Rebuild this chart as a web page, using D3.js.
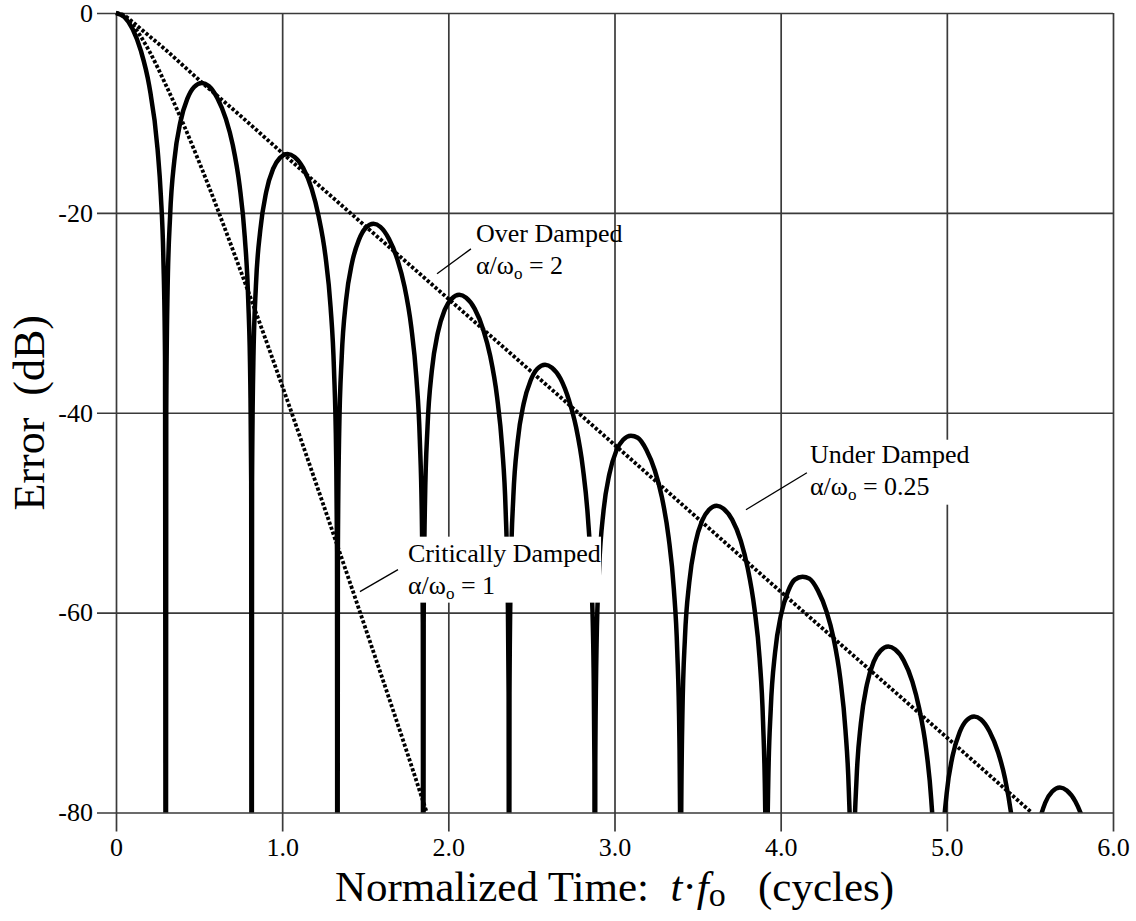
<!DOCTYPE html>
<html>
<head>
<meta charset="utf-8">
<script src="https://cdn.jsdelivr.net/npm/d3@7/dist/d3.min.js"></script>
<style>
  body { margin: 0; background: #fff; }
  svg text { font-family: "Liberation Serif", "Times New Roman", serif; fill: #000; }
</style>
</head>
<body>
<svg id="chart" width="1136" height="921"></svg>
<script>
// axis ticks
const xTicks = [0, 1, 2, 3, 4, 5, 6];
const yTicks = [0, -20, -40, -60, -80];

// series: [t*fo (cycles), error (dB)]
const overDamped = [
  [0, 0], [0.05, -0.25], [0.1, -0.9], [0.15, -1.6], [0.2, -2.3], [0.3, -3.7], [0.4, -5.2],
  [0.5, -6.7], [0.75, -10.3], [1, -14.0], [2, -28.6], [3, -43.2], [4, -57.9], [5, -72.5], [5.51, -80]
];
const criticallyDamped = [
  [0, 0], [0.05, -0.35], [0.1, -1.2], [0.2, -3.8], [0.3, -7.2], [0.4, -10.9], [0.5, -14.9],
  [0.75, -25.8], [1, -37.3], [1.25, -49.3], [1.5, -61.5], [1.75, -73.9], [1.87, -80]
];
// nulls drop below the -80 floor and get clipped
const underDamped = [
  [0, 0], [0.05, -0.4], [0.1, -1.6], [0.15, -3.8], [0.2, -7.3], [0.25, -13.6], [0.27, -18.3],
  [0.285, -24.5], [0.295, -34.4], [0.2998, -120],
  [0.3024, -39.9], [0.3101, -28.0], [0.3256, -20.3], [0.3514, -14.7], [0.3876, -10.9], [0.4289, -8.6],
  [0.4702, -7.4], [0.5167, -7.0], [0.5580, -7.3], [0.6096, -8.5], [0.6613, -10.6], [0.7026, -13.2],
  [0.7439, -17.3], [0.7749, -22.4], [0.7955, -28.6], [0.8085, -37.3], [0.8136, -46.9], [0.8162, -120],
  [0.8188, -47.0], [0.8265, -35.0], [0.8420, -27.3], [0.8678, -21.8], [0.9040, -17.9], [0.9453, -15.6],
  [0.9866, -14.5], [1.0331, -14.1], [1.0744, -14.4], [1.1260, -15.5], [1.1777, -17.6], [1.2190, -20.3],
  [1.2603, -24.3], [1.2913, -29.4], [1.3119, -35.7], [1.3249, -44.3], [1.3300, -53.9], [1.3326, -120],
  [1.3352, -54.0], [1.3429, -42.1], [1.3584, -34.4], [1.3842, -28.8], [1.4204, -25.0], [1.4617, -22.7],
  [1.5030, -21.5], [1.5495, -21.1], [1.5908, -21.4], [1.6424, -22.6], [1.6941, -24.7], [1.7354, -27.3],
  [1.7767, -31.4], [1.8077, -36.5], [1.8283, -42.7], [1.8413, -51.4], [1.8464, -61.0], [1.8490, -120],
  [1.8516, -61.1], [1.8593, -49.1], [1.8748, -41.4], [1.9006, -35.8], [1.9368, -32.0], [1.9781, -29.7],
  [2.0194, -28.6], [2.0659, -28.2], [2.1072, -28.5], [2.1588, -29.6], [2.2105, -31.7], [2.2518, -34.3],
  [2.2931, -38.4], [2.3241, -43.5], [2.3447, -49.7], [2.3577, -58.4], [2.3628, -68.0], [2.3654, -120],
  [2.3680, -68.1], [2.3757, -56.2], [2.3912, -48.4], [2.4170, -42.9], [2.4532, -39.1], [2.4945, -36.8],
  [2.5358, -35.6], [2.5823, -35.2], [2.6236, -35.5], [2.6752, -36.6], [2.7269, -38.8], [2.7682, -41.4],
  [2.8095, -45.5], [2.8405, -50.6], [2.8611, -56.8], [2.8741, -65.5], [2.8792, -75.1], [2.8818, -120],
  [2.8844, -75.1], [2.8921, -63.2], [2.9076, -55.5], [2.9334, -49.9], [2.9696, -46.1], [3.0109, -43.8],
  [3.0522, -42.7], [3.0987, -42.3], [3.1400, -42.5], [3.1916, -43.7], [3.2433, -45.8], [3.2846, -48.4],
  [3.3259, -52.5], [3.3569, -57.6], [3.3775, -63.8], [3.3905, -72.5], [3.3956, -82.1], [3.3982, -120],
  [3.4008, -82.2], [3.4085, -70.3], [3.4240, -62.5], [3.4498, -57.0], [3.4860, -53.1], [3.5273, -50.8],
  [3.5686, -49.7], [3.6151, -49.3], [3.6564, -49.6], [3.7080, -50.7], [3.7597, -52.8], [3.8010, -55.5],
  [3.8423, -59.6], [3.8733, -64.6], [3.8939, -70.9], [3.9069, -79.6], [3.9120, -89.2], [3.9146, -120],
  [3.9172, -89.2], [3.9249, -77.3], [3.9404, -69.6], [3.9662, -64.0], [4.0024, -60.2], [4.0437, -57.9],
  [4.0850, -56.7], [4.1315, -56.4], [4.1728, -56.6], [4.2244, -57.8], [4.2761, -59.9], [4.3174, -62.5],
  [4.3587, -66.6], [4.3897, -71.7], [4.4103, -77.9], [4.4233, -86.6], [4.4284, -96.2], [4.4310, -120],
  [4.4336, -96.3], [4.4413, -84.3], [4.4568, -76.6], [4.4826, -71.1], [4.5188, -67.2], [4.5601, -64.9],
  [4.6014, -63.8], [4.6479, -63.4], [4.6892, -63.7], [4.7408, -64.8], [4.7925, -66.9], [4.8338, -69.6],
  [4.8751, -73.6], [4.9061, -78.7], [4.9267, -85.0], [4.9397, -93.6], [4.9448, -103.2], [4.9474, -120],
  [4.9500, -103.3], [4.9577, -91.4], [4.9732, -83.7], [4.9990, -78.1], [5.0352, -74.3], [5.0765, -72.0],
  [5.1178, -70.8], [5.1643, -70.4], [5.2056, -70.7], [5.2572, -71.9], [5.3089, -74.0], [5.3502, -76.6],
  [5.3915, -80.7], [5.4225, -85.8], [5.4431, -92.0], [5.4561, -100.7], [5.4612, -110.3], [5.4638, -120],
  [5.4664, -110.4], [5.4741, -98.4], [5.4896, -90.7], [5.5154, -85.1], [5.5516, -81.3], [5.5929, -79.0],
  [5.6342, -77.9], [5.6807, -77.5], [5.7220, -77.8], [5.7736, -78.9], [5.8253, -81.0], [5.8666, -83.6],
  [5.9079, -87.7]
];

// annotation texts
const labelNames = ['Over Damped', 'Critically Damped', 'Under Damped'];
const labelRatios = ['2', '1', '0.25'];

const serif = '"Liberation Serif", "Times New Roman", serif';
const svg = d3.select('#chart');
const plot = { left: 116, right: 1113, top: 13, bottom: 812.5 };

const x = d3.scaleLinear().domain([0, 6]).range([plot.left, plot.right]);
const y = d3.scaleLinear().domain([0, -80]).range([plot.top, plot.bottom]);

// grid + ticks (ticks run past the frame like the original)
const tickOut = 19;
const styleAxis = g => {
  g.attr('font-family', null).attr('font-size', null);
  g.select('.domain').remove();
  g.selectAll('line').attr('stroke', '#3a3a3a').attr('stroke-width', 1.7);
  g.selectAll('text').attr('font-family', serif).attr('font-size', 26).attr('fill', '#000');
};

svg.append('g')
  .attr('transform', 'translate(' + (plot.left - tickOut) + ',0)')
  .call(d3.axisLeft(y).tickValues(yTicks)
    .tickSize(-(plot.right - plot.left + tickOut))
    .tickPadding(4)
    .tickFormat(d => String(d)))
  .call(styleAxis);

svg.append('g')
  .attr('transform', 'translate(0,' + (plot.bottom + tickOut) + ')')
  .call(d3.axisBottom(x).tickValues(xTicks)
    .tickSize(-(plot.bottom - plot.top + tickOut))
    .tickPadding(6)
    .tickFormat(d => d === 0 ? '0' : d.toFixed(1)))
  .call(styleAxis);

// clip curves to the plot frame
svg.append('clipPath').attr('id', 'clip')
  .append('rect')
  .attr('x', plot.left - 4).attr('y', plot.top - 4)
  .attr('width', plot.right - plot.left + 8)
  .attr('height', plot.bottom - plot.top + 4);

const line = d3.line()
  .x(d => x(d[0]))
  .y(d => y(d[1]))
  .curve(d3.curveMonotoneX);

const curves = svg.append('g').attr('clip-path', 'url(#clip)');

curves.append('path').datum(underDamped)
  .attr('d', line)
  .attr('fill', 'none')
  .attr('stroke', '#000')
  .attr('stroke-width', 4.5)
  .attr('stroke-linejoin', 'round');

[overDamped, criticallyDamped].forEach(s => {
  curves.append('path').datum(s)
    .attr('d', line)
    .attr('fill', 'none')
    .attr('stroke', '#000')
    .attr('stroke-width', 3.8)
    .attr('stroke-dasharray', '3.2 2');
});

// annotation layout, in data coords
const notes = [
  { at: [2.166, -22.9], lead: [[1.932, -26.1], [2.136, -23.6]], box: null },
  { at: [1.757, -54.9], lead: [[1.468, -57.9], [1.697, -55.7]], box: [1.709, 2.919, -52.4, -59.0] },
  { at: [4.176, -45.0], lead: [[3.791, -49.7], [4.158, -46.0]], box: [4.116, 5.169, -42.7, -49.2] }
];

notes.forEach((n, i) => {
  const g = svg.append('g');
  if (n.box) {
    g.append('rect')
      .attr('x', x(n.box[0])).attr('y', y(n.box[2]))
      .attr('width', x(n.box[1]) - x(n.box[0]))
      .attr('height', y(n.box[3]) - y(n.box[2]))
      .attr('fill', '#fff');
  }
  g.append('line')
    .attr('x1', x(n.lead[0][0])).attr('y1', y(n.lead[0][1]))
    .attr('x2', x(n.lead[1][0])).attr('y2', y(n.lead[1][1]))
    .attr('stroke', '#000').attr('stroke-width', 1.3);

  const tx = x(n.at[0]), ty = y(n.at[1]);
  g.append('text').attr('x', tx).attr('y', ty)
    .attr('font-family', serif).attr('font-size', 26)
    .text(labelNames[i]);
  const t2 = g.append('text').attr('x', tx).attr('y', ty + 32)
    .attr('font-family', serif).attr('font-size', 26);
  t2.append('tspan').text('α/ω');
  t2.append('tspan').attr('dy', 5).attr('font-size', 17).text('o');
  t2.append('tspan').attr('dy', -5).text(' = ' + labelRatios[i]);
});

// axis titles
const xt = svg.append('text')
  .attr('x', (plot.left + plot.right) / 2).attr('y', 901)
  .attr('text-anchor', 'middle')
  .attr('font-family', serif).attr('font-size', 43)
  .attr('xml:space', 'preserve');
xt.append('tspan').text('Normalized Time:  ');
xt.append('tspan').attr('font-style', 'italic').text('t');
xt.append('tspan').text('·');
xt.append('tspan').attr('font-style', 'italic').text('f');
xt.append('tspan').attr('dy', 5).attr('font-size', 34).text('o');
xt.append('tspan').attr('dy', -5).text('   (cycles)');

svg.append('text')
  .attr('transform', 'translate(44,' + ((plot.top + plot.bottom) / 2) + ') rotate(-90)')
  .attr('text-anchor', 'middle')
  .attr('font-family', serif).attr('font-size', 44)
  .attr('xml:space', 'preserve')
  .text('Error  (dB)');
</script>
</body>
</html>
